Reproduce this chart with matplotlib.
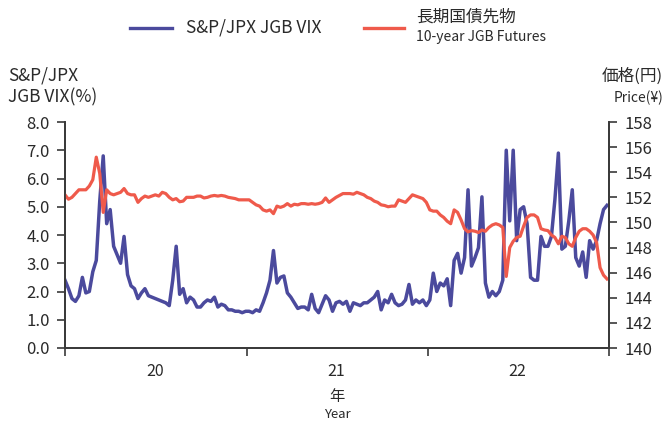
import matplotlib.pyplot as plt
from matplotlib.lines import Line2D
import pandas as pd

plt.rcParams['font.family'] = ['Noto Sans CJK JP', 'DejaVu Sans']

# weekly observations, Jan 2020 - Dec 2022
dates = pd.date_range('2020-01-01', periods=157, freq='7D')

# S&P/JPX JGB VIX (%)
vix = [
    2.4, 2.1, 1.75, 1.65, 1.85, 2.5, 1.95, 2.0, 2.7, 3.1,
    5.2, 6.8, 4.4, 4.9, 3.6, 3.3, 3.0, 3.95, 2.6, 2.2,
    2.1, 1.75, 1.95, 2.1, 1.85, 1.8, 1.75, 1.7, 1.65, 1.6,
    1.5, 2.4, 3.6, 1.9, 2.1, 1.6, 1.8, 1.7, 1.45, 1.45,
    1.6, 1.7, 1.65, 1.8, 1.45, 1.55, 1.5, 1.35, 1.35, 1.3,
    1.3, 1.25, 1.3, 1.3, 1.25, 1.35, 1.3, 1.6, 1.95, 2.4,
    3.45, 2.3, 2.5, 2.55, 1.95, 1.8, 1.6, 1.4, 1.45, 1.45,
    1.35, 1.9, 1.4, 1.25, 1.55, 1.85, 1.7, 1.3, 1.6, 1.65,
    1.55, 1.65, 1.3, 1.6, 1.55, 1.5, 1.6, 1.6, 1.7, 1.8,
    2.0, 1.35, 1.7, 1.6, 1.9, 1.6, 1.5, 1.55, 1.7, 2.25,
    1.55, 1.7, 1.6, 1.7, 1.5, 1.7, 2.65, 2.0, 2.3, 2.2,
    2.45, 1.5, 3.1, 3.35, 2.65, 3.2, 5.6, 2.9, 3.2, 3.55,
    5.35, 2.3, 1.8, 2.0, 1.85, 2.0, 2.4, 7.0, 4.5, 7.0,
    3.8, 4.9, 5.0, 4.4, 2.5, 2.4, 2.4, 3.95, 3.6, 3.6,
    3.95, 5.25, 6.9, 3.5, 3.6, 4.5, 5.6, 3.2, 2.9, 3.4,
    2.5, 3.8, 3.5, 3.8, 4.4, 4.9, 5.05,
]

# 10-year JGB futures price (yen)
futures = [
    152.2, 151.85, 152.0, 152.3, 152.6, 152.6, 152.6, 152.9, 153.4, 155.2,
    153.9, 150.8, 152.6, 152.3, 152.2, 152.3, 152.4, 152.7, 152.3, 152.2,
    152.2, 151.6, 151.9, 152.1, 152.0, 152.1, 152.2, 152.1, 152.4, 152.3,
    152.0, 151.8, 151.9, 151.65, 151.7, 152.0, 152.0, 152.0, 152.1, 152.1,
    151.95, 152.0, 152.1, 152.15, 152.1, 152.15, 152.1, 152.0, 151.95, 151.9,
    151.8, 151.8, 151.8, 151.8, 151.6, 151.4, 151.3, 151.0, 150.9, 151.0,
    150.7, 151.3, 151.2, 151.3, 151.5, 151.3, 151.45, 151.4, 151.5, 151.5,
    151.45, 151.5, 151.45, 151.5, 151.6, 151.95, 151.6, 151.8, 152.0, 152.15,
    152.3, 152.3, 152.3, 152.25, 152.4, 152.3, 152.2, 152.0, 151.9, 151.7,
    151.6, 151.4, 151.35, 151.25, 151.3, 151.3, 151.8, 151.7, 151.6, 151.9,
    152.2, 152.1, 152.0, 151.9, 151.6, 151.0, 150.9, 150.9, 150.6, 150.4,
    150.1, 149.9, 151.0, 150.8, 150.2, 149.5, 149.25, 149.35, 149.3, 149.2,
    149.4, 149.3, 149.6, 149.8, 149.9, 149.8, 149.6, 145.7, 148.0, 148.5,
    148.8, 148.9, 149.7, 150.4, 150.6, 150.6, 150.4, 149.5, 149.4, 149.35,
    149.0, 148.8, 148.3, 148.9, 148.8, 148.3, 148.1, 148.8, 149.3, 149.5,
    149.5, 149.3, 149.0, 148.4, 146.4, 145.8, 145.5,
]

year_starts = pd.to_datetime(['2020-01-01', '2021-01-01', '2022-01-01', '2023-01-01'])
year_mids = pd.to_datetime(['2020-07-01', '2021-07-01', '2022-07-01'])
year_labels = ['20', '21', '22']

blue = '#4b4a9d'
red = '#ef5a4b'
axis_col = '#3a3a3a'
text_col = '#2a2a2a'

fig, ax = plt.subplots(figsize=(6.67, 4.21), dpi=100)
fig.subplots_adjust(left=65/667, right=609/667, top=1-122/421, bottom=1-348/421)
ax2 = ax.twinx()

ax.plot(dates, vix, color=blue, lw=2.5, solid_joinstyle='round')
ax2.plot(dates, futures, color=red, lw=2.3, solid_joinstyle='round')

ax.set_ylim(0, 8)
ax.set_yticks(range(0, 9))
ax.set_yticklabels([f'{v:.1f}' for v in range(0, 9)])
ax2.set_ylim(140, 158)
ax2.set_yticks(range(140, 159, 2))

ax.set_xlim(year_starts[0], year_starts[-1])
ax.set_xticks(year_starts)
ax.set_xticklabels([])
ax.set_xticks(year_mids, minor=True)
ax.set_xticklabels(year_labels, minor=True)
ax.tick_params(axis='x', which='minor', length=0, pad=11, labelsize=11.5, labelcolor=text_col)
ax.tick_params(axis='x', which='major', length=6, width=1.2, color=axis_col)
ax.tick_params(axis='y', length=6, width=1.2, pad=5, color=axis_col, labelsize=12, labelcolor=text_col)
ax2.tick_params(axis='y', length=6, width=1.2, pad=5, color=axis_col, labelsize=12, labelcolor=text_col)

for a in (ax, ax2):
    a.spines['top'].set_visible(False)
    for s in ('left', 'right', 'bottom'):
        a.spines[s].set_color(axis_col)
        a.spines[s].set_linewidth(1.3)

# axis titles
fig.text(8/667, 1-76/421, 'S&P/JPX', fontsize=12.5, color=text_col, va='center', ha='left')
fig.text(8/667, 1-97/421, 'JGB VIX(%)', fontsize=12.5, color=text_col, va='center', ha='left')
fig.text(663/667, 1-76/421, '価格(円)', fontsize=12, color=text_col, va='center', ha='right')
fig.text(663/667, 1-98/421, 'Price(¥)', fontsize=10, color=text_col, va='center', ha='right')
fig.text(337/667, 1-397/421, '年', fontsize=11, color=text_col, va='center', ha='center')
fig.text(337/667, 1-414/421, 'Year', fontsize=9.5, color=text_col, va='center', ha='center')

# legend
fig.add_artist(Line2D([130/667, 172/667], [1-28/421, 1-28/421], color=blue, lw=2.4,
                      transform=fig.transFigure))
fig.text(186/667, 1-28/421, 'S&P/JPX JGB VIX', fontsize=12.5, color=text_col, va='center', ha='left')
fig.add_artist(Line2D([364/667, 404/667], [1-28/421, 1-28/421], color=red, lw=2.4,
                      transform=fig.transFigure))
fig.text(416/667, 1-17/421, '長期国債先物', fontsize=12, color=text_col, va='center', ha='left')
fig.text(416/667, 1-37/421, '10-year JGB Futures', fontsize=10, color=text_col, va='center', ha='left')

fig.savefig('out.png', dpi=100)
